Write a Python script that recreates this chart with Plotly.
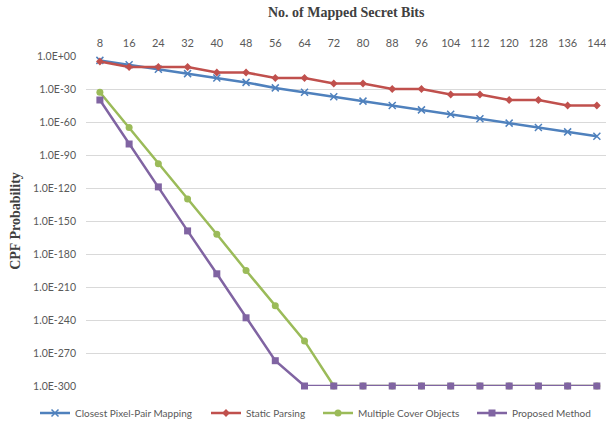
import plotly.graph_objects as go

bits = [8, 16, 24, 32, 40, 48, 56, 64, 72, 80, 88, 96, 104, 112, 120, 128, 136, 144]

closest_pixel_pair = [1e-4, 1e-8, 1e-12, 1e-16, 1e-20, 1e-24, 1e-29, 1e-33, 1e-37,
                      1e-41, 1e-45, 1e-49, 1e-53, 1e-57, 1e-61, 1e-65, 1e-69, 1e-73]
static_parsing = [1e-5, 1e-10, 1e-10, 1e-10, 1e-15, 1e-15, 1e-20, 1e-20, 1e-25,
                  1e-25, 1e-30, 1e-30, 1e-35, 1e-35, 1e-40, 1e-40, 1e-45, 1e-45]
multiple_cover = [1e-33, 1e-65, 1e-98, 1e-130, 1e-162, 1e-195, 1e-227, 1e-259, 1e-300,
                  1e-300, 1e-300, 1e-300, 1e-300, 1e-300, 1e-300, 1e-300, 1e-300, 1e-300]
proposed = [1e-40, 1e-80, 1e-119, 1e-159, 1e-198, 1e-238, 1e-277, 1e-300, 1e-300,
            1e-300, 1e-300, 1e-300, 1e-300, 1e-300, 1e-300, 1e-300, 1e-300, 1e-300]

y_tick_vals = [1e0, 1e-30, 1e-60, 1e-90, 1e-120, 1e-150, 1e-180, 1e-210, 1e-240, 1e-270, 1e-300]
y_tick_text = ["1.0E+00", "1.0E-30", "1.0E-60", "1.0E-90", "1.0E-120", "1.0E-150",
               "1.0E-180", "1.0E-210", "1.0E-240", "1.0E-270", "1.0E-300"]

series = [
    ("Closest Pixel-Pair Mapping", closest_pixel_pair, "#4F81BD",
     dict(symbol="x-thin-open", size=7, line=dict(width=1.5, color="#4F81BD")), "legend", 35),
    ("Static Parsing", static_parsing, "#C0504D",
     dict(symbol="diamond", size=6, color="#C0504D"), "legend2", 206),
    ("Multiple Cover Objects", multiple_cover, "#9BBB59",
     dict(symbol="circle", size=7, color="#9BBB59"), "legend3", 318),
    ("Proposed Method", proposed, "#8064A2",
     dict(symbol="square", size=7, color="#8064A2"), "legend4", 472),
]

fig = go.Figure()
legend_layout = {}
for name, vals, color, marker, lg, lx in series:
    fig.add_trace(go.Scatter(
        x=bits, y=vals, name=name, mode="lines+markers",
        line=dict(color=color, width=2.5), marker=marker,
        cliponaxis=False, legend=lg,
    ))
    legend_layout[lg] = dict(
        orientation="h", xref="container", yref="container",
        x=lx / 606, y=1 - 413 / 428, xanchor="left", yanchor="middle",
        font=dict(family="Lato", size=10, color="#595959"),
        bgcolor="rgba(0,0,0,0)", itemwidth=30,
    )

fig.update_layout(
    width=606, height=428,
    margin=dict(l=86, r=0, t=56, b=42),
    paper_bgcolor="white", plot_bgcolor="white",
    showlegend=True,
    xaxis=dict(
        side="top", range=[4.2, 146.5], tickvals=bits,
        ticktext=[str(b) for b in bits],
        showgrid=False, zeroline=False, showline=False, ticks="",
        tickfont=dict(family="Lato", size=11, color="#595959"),
        ticklabelstandoff=6, ticklabeloverflow="allow",
    ),
    yaxis=dict(
        type="log", range=[-300, 0], tickvals=y_tick_vals, ticktext=y_tick_text,
        showgrid=True, gridcolor="#D9D9D9", gridwidth=1,
        zeroline=False, showline=False, ticks="",
        tickfont=dict(family="Lato", size=10.5, color="#595959"),
        ticklabelstandoff=9,
        title=dict(text="<b>CPF Probability</b>",
                   font=dict(family="Liberation Serif", size=14, color="#404040"),
                   standoff=9),
    ),
    annotations=[dict(
        text="<b>No. of Mapped Secret Bits</b>", xref="paper", yref="paper",
        x=0.5, y=1 + 43 / 330, xanchor="center", yanchor="middle", showarrow=False,
        font=dict(family="Liberation Serif", size=14, color="#404040"),
    )],
    **legend_layout,
)

fig.write_html("out.html", config={"displayModeBar": False},
               post_script="document.body.style.margin='0';")
